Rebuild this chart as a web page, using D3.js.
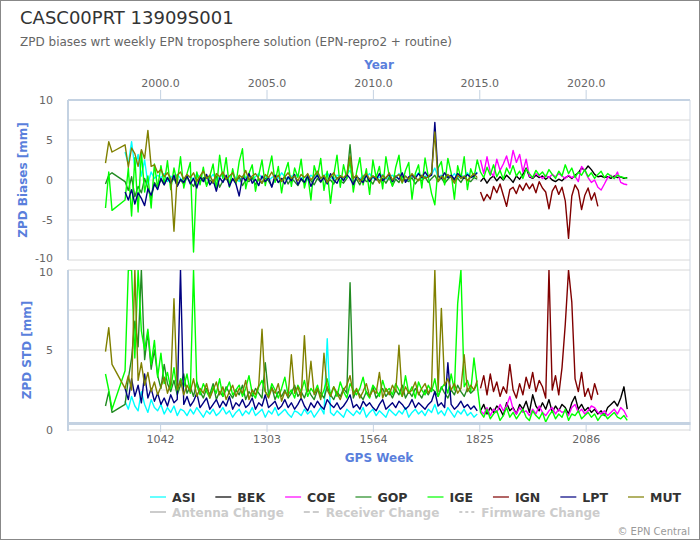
<!DOCTYPE html>
<html>
<head>
<meta charset="utf-8">
<script src="https://cdn.jsdelivr.net/npm/d3@7"></script>
<style>
  body { margin: 0; background: #fff; }
  text { font-family: "DejaVu Sans", sans-serif; }
</style>
</head>
<body>
<div id="chart"></div>
<script>
// GPS weeks: value k of a series sits at week gridStart + (offset + k) * weekStep
const gridStart = 908;
const weekStep = 8;

const stations = ["ASI", "BEK", "COE", "GOP", "IGE", "IGN", "LPT", "MUT"];
const colors = ["#00ffff", "#000000", "#ff00ff", "#228b22", "#00ff00", "#800000", "#000080", "#808000"];
const offsets = [6, 115, 115, 0, 0, 115, 6, 0];

const weekTicks = [1042, 1303, 1564, 1825, 2086];
const yearTicks = [2000, 2005, 2010, 2015, 2020];
const biasTicks = [-10, -5, 0, 5, 10];
const stdTicks = [0, 5, 10];

const asiBias = [3.5, 2.0, 4.8, 1.5, 3.2, 0.5, 2.5, -0.5, 1.0, 0.2,
  0.6, 0.3, 0.8, -0.2, 0.5, 0.1, 0.7, 0.2, -0.3, 0.6,
  0.4, 0.1, 0.8, 0.3, -0.1, 0.5, 0.2, 0.7, 0.0, 0.4,
  0.6, 0.1, 0.3, 0.9, 0.2, -0.2, 0.5, 0.3, 0.7, 0.1,
  0.4, 0.8, 0.2, 0.5, -0.1, 0.3, 0.6, 0.2, 0.9, 0.4,
  0.1, 0.5, 0.3, 0.7, 0.2, 0.4, 0.0, 0.6, 0.3, 0.8,
  0.2, 0.5, 0.9, 0.3, 0.1, 0.6, 0.4, 0.2, 0.7, 1.2,
  0.3, 0.5, 0.1, 0.6, 0.4, 0.8, 0.2, 0.5, 0.3, 0.7,
  0.1, 0.4, 0.6, 0.2, 0.8, 0.3, 0.5, 0.0, 0.6, 0.4,
  0.9, 0.2, 0.5, 0.3, 0.7, 1.5, 0.4, 0.6, 0.1, 0.5,
  0.3, 0.8, 0.2, 0.6, 0.4, 0.9, 0.3, 0.5, 1.0];
const asiStd = [1.8, 1.3, 2.1, 1.5, 1.2, 2.4, 1.6, 1.1, 1.9, 1.4,
  1.2, 1.6, 1.0, 1.4, 1.1, 1.5, 0.9, 1.3, 1.2, 0.9,
  1.3, 1.0, 1.4, 1.1, 0.8, 1.2, 1.0, 1.3, 0.9, 1.1,
  1.4, 1.0, 1.2, 0.8, 1.1, 1.3, 0.9, 1.2, 1.0, 1.4,
  0.9, 1.1, 1.3, 0.8, 1.2, 1.0, 1.4, 0.9, 1.1, 1.3,
  1.0, 0.8, 1.2, 1.1, 0.9, 1.3, 1.0, 1.2, 0.8, 1.1,
  1.4, 1.0, 5.7, 1.1, 0.9, 1.2, 1.0, 0.8, 1.3, 1.1,
  0.9, 1.2, 1.0, 1.4, 0.8, 1.1, 1.3, 0.9, 1.2, 1.0,
  0.8, 1.3, 1.1, 0.9, 1.2, 1.0, 1.4, 0.8, 1.1, 1.3,
  1.0, 1.2, 0.9, 1.3, 1.1, 1.6, 1.0, 1.2, 0.9, 1.4,
  1.1, 0.8, 1.2, 1.0, 1.3, 0.9, 1.1, 0.8, 1.0];

const bekBias = [-0.2, 0.3, -0.4, 0.2, 0.5, -0.1, 0.4, 0.0, 0.6, 0.2,
  -0.3, 0.5, 0.1, 0.7, 1.5, 0.4, 0.2, 0.6, 0.3, 0.5,
  0.1, 0.4, 0.0, -0.2, 0.1, -0.1, 0.3, 0.5, 0.2, 0.6,
  0.9, 1.5, 1.2, 1.75, 1.3, 0.7, 0.4, 0.5, 0.3, 0.4,
  0.2, 0.5, 0.3, 0.4, 0.2, 0.3];
const bekStd = [1.2, 1.6, 1.0, 1.4, 1.1, 1.5, 1.3, 0.9, 1.7, 1.2,
  1.4, 1.0, 1.6, 1.3, 1.8, 1.1, 2.2, 1.5, 1.2, 1.7,
  1.3, 1.9, 1.1, 1.5, 1.2, 1.6, 1.4, 1.0, 1.7, 2.1,
  1.3, 1.6, 1.2, 1.4, 1.1, 1.3, 1.0, 1.2, 0.9, 1.4,
  1.6, 1.8, 1.5, 2.0, 2.7, 1.3];

const coeBias = [2.5, 0.8, 2.9, 1.0, 0.5, 2.6, 1.2, 2.0, 3.0, 1.5,
  3.7, 2.2, 3.2, 1.0, 2.6, 0.5, 0.3, 0.8, 0.5, 0.2,
  0.6, 0.3, 0.7, 0.4, 0.8, 0.5, 0.2, 0.6, 0.3, 0.5,
  -0.2, 1.7, 1.2, 0.3, -0.3, 0.0, -0.9, -1.25, -0.5, 0.3,
  0.6, 0.2, 1.0, -0.3, -0.5, -0.6];
const coeStd = [1.2, 1.0, 1.4, 0.9, 1.3, 1.1, 1.6, 1.2, 1.5, 2.1,
  1.3, 1.0, 1.4, 1.1, 1.2, 0.9, 1.3, 1.0, 1.5, 1.1,
  0.9, 1.2, 1.4, 1.0, 1.3, 1.1, 1.2, 0.9, 1.4, 1.6,
  1.1, 1.3, 1.0, 1.2, 1.5, 1.4, 1.1, 1.0, 1.2, 0.9,
  1.1, 1.3, 1.0, 1.4, 1.2, 0.8];

const gopBias = [-0.5, 0.6, 0.9, null, null, null, -0.2, -1.3, 0.4, -2.1,
  -0.8, -1.6, 0.2, -1.0, -2.4, -0.3, -0.9, 0.1, -0.6, 0.3,
  -0.4, 0.2, -0.7, 0.0, -0.5, 0.4, -0.3, -0.8, 0.1, -0.2,
  0.3, -0.6, 0.0, -0.4, 0.5, -0.9, -0.1, 0.2, -0.5, 0.1,
  -0.3, 0.4, -0.7, 0.0, -0.2, 0.3, -0.6, 0.1, -0.4, 0.2,
  -0.1, -0.8, 0.3, -0.3, 0.0, 0.4, -0.5, 0.2, -0.2, -0.7,
  0.1, -0.4, 0.3, -0.1, -0.6, 0.2, -0.3, 0.5, -0.2, 0.0,
  -0.5, 0.3, -0.1, -0.4, 0.2, 4.4, -0.3, 0.1, -0.6, 0.3,
  -0.2, 0.0, -0.5, 0.4, -0.1, 0.2, -0.4, 0.3, -0.7, 0.1,
  -0.3, 0.5, 0.0, -0.2, 0.3, -0.5, 0.1, -0.1, 0.4, -0.3,
  0.2, 0.6, -0.2, 0.3, -0.4, 0.1, 0.5, -0.1, 0.2, -0.3,
  0.4, 0.0, -0.2, 0.3, 0.1];
const gopStd = [1.5, 2.4, 1.1, null, null, null, 1.6, 3.2, 4.5, 6.8,
  5.2, 10, 4.4, 6.1, 3.8, 5.0, 3.4, 2.6, 4.1, 2.9,
  2.4, 3.1, 2.2, 2.8, 3.5, 2.3, 2.7, 2.1, 3.0, 2.4,
  2.0, 2.6, 2.2, 2.9, 1.9, 2.4, 2.1, 2.7, 2.3, 2.0,
  2.5, 2.2, 2.8, 1.9, 2.4, 2.1, 2.6, 2.3, 2.0, 4.2,
  2.2, 2.7, 1.9, 2.4, 2.1, 2.5, 2.0, 2.3, 2.8, 2.1,
  2.4, 2.0, 2.6, 2.2, 1.9, 2.5, 2.3, 2.0, 2.7, 2.2,
  1.9, 2.4, 2.1, 2.6, 2.3, 9.2, 2.0, 2.5, 2.2, 1.9,
  2.4, 2.1, 2.7, 2.0, 2.3, 2.6, 2.1, 2.4, 2.0, 2.5,
  2.2, 2.8, 2.0, 2.4, 2.1, 2.6, 2.3, 2.0, 2.5, 2.2,
  2.6, 2.4, 2.1, 2.7, 2.3, 2.0, 2.5, 2.2, 2.8, 2.4,
  2.1, 2.6, 2.3, 2.5, 2.9];

const igeBias = [-3.5, 1.0, -3.8, null, null, null, -2.5, 1.5, -4.5, 2.8,
  -4.0, 3.5, -1.5, 0.5, -3.5, 2.0, -1.0, 1.8, -0.5, 2.4,
  -1.2, 1.5, -0.4, 2.9, -1.0, 0.8, 2.2, -9.0, 1.0, -0.6,
  1.6, -0.8, 0.5, 2.0, -1.2, 3.1, 0.2, 2.8, -0.9, 1.4,
  -0.5, 2.3, 3.9, -1.1, 0.8, 1.9, -1.4, 0.6, 2.5, -0.7,
  1.2, 3.0, -0.3, 1.7, -1.6, 0.9, 2.2, -0.8, 1.5, 0.3,
  2.6, -1.0, 0.7, -2.5, 1.8, 0.4, 2.7, -1.3, 1.1, -2.9,
  0.6, 3.1, -0.9, 1.9, 0.2, 2.4, -1.5, 1.0, 2.8, -0.6,
  1.4, -1.8, 2.5, 0.3, 1.7, -1.1, 2.9, 0.5, -0.8, 1.6,
  3.1, -0.4, 1.2, 2.2, -2.4, 0.8, 1.9, -1.0, 2.75, 0.4,
  -1.7, -3.1, 1.5, 2.3, -0.6, 2.7, 0.9, -2.4, 1.8, 0.2,
  2.9, -1.2, 1.4, 0.3, 2.5,
  1.0, 0.3, 1.6, 0.6, 1.9, 0.4, 1.2, 0.1, 1.5, 0.7,
  1.8, 0.5, 1.1, 0.2, 1.4, 0.8, 0.3, 1.2, 0.6, 1.0,
  0.4, 1.3, 0.7, 0.2, 1.1, 0.5, 1.9, 0.8, 1.5, 0.3,
  1.0, 0.6, 1.3, 0.4, 0.9, 0.2, 0.7, 1.1, 0.3, 0.8,
  0.5, 0.2, 0.6, 0.4, 0.3, 0.2];
const igeStd = [3.5, 2.5, 1.3, null, null, null, 3.7, 10, 10, 4.5,
  10, 6.2, 5.0, 6.3, 4.1, 5.6, 3.3, 4.8, 2.9, 3.6,
  2.6, 3.9, 2.4, 3.2, 2.7, 3.5, 2.3, 10, 2.8, 2.2,
  2.9, 2.4, 2.0, 2.7, 2.3, 3.2, 2.1, 2.5, 3.0, 2.2,
  2.5, 2.8, 2.1, 2.6, 3.4, 2.3, 2.0, 2.7, 3.1, 2.4,
  2.1, 2.9, 2.5, 2.0, 2.6, 3.3, 2.2, 2.5, 2.0, 2.8,
  2.4, 3.1, 2.1, 2.6, 2.3, 2.8, 2.0, 2.5, 3.2, 2.2,
  2.7, 2.1, 3.0, 2.4, 2.0, 2.9, 2.5, 2.2, 2.6, 3.3,
  2.3, 2.0, 2.8, 2.5, 2.1, 3.1, 2.4, 2.6, 2.2, 2.9,
  2.5, 2.1, 3.4, 2.3, 2.7, 2.0, 3.0, 2.5, 2.2, 2.8,
  2.4, 3.2, 2.1, 2.6, 2.9, 2.3, 3.5, 2.5, 7.9, 10,
  2.7, 3.1, 2.4, 4.5, 2.8,
  1.1, 0.8, 1.3, 0.7, 1.0, 1.2, 0.6, 0.9, 1.4, 0.8,
  1.1, 0.7, 1.0, 1.3, 0.8, 0.6, 1.2, 0.9, 0.7, 1.1,
  0.5, 0.9, 1.2, 0.7, 1.0, 0.8, 1.3, 0.6, 1.0, 0.9,
  1.2, 0.7, 0.9, 1.1, 0.8, 1.0, 0.6, 0.9, 1.0, 0.7,
  0.9, 1.1, 0.8, 0.7, 0.9, 0.6];

const ignBias = [-1.5, -2.6, -1.8, -2.4, -0.8, -1.6, -0.5, -1.9, -3.3, -1.2,
  -0.9, -1.7, -0.6, -1.3, -0.4, -1.1, -0.5, -1.6, -0.2, -1.0,
  -1.5, -3.6, -1.4, -0.7, -1.8, -0.9, -2.6, -7.3, -2.0, -0.6,
  -1.3, -3.7, -1.9, -1.0, -2.5, -1.6, -3.3];
const ignStd = [2.6, 3.4, 2.2, 3.5, 2.4, 3.0, 2.1, 2.7, 2.3, 4.1,
  2.5, 2.0, 2.9, 2.2, 3.3, 2.6, 3.6, 2.4, 3.1, 2.7,
  2.0, 10, 2.5, 3.4, 2.2, 3.9, 6.6, 10, 8.0, 3.2,
  2.4, 3.6, 2.1, 2.6, 1.9, 2.9, 2.2];

const lptBias = [-1.5, -2.5, -1.2, -3.0, -1.6, -2.3, -3.2, -1.1, -1.9, -0.5,
  -1.2, 0.2, -0.6, 0.3, -0.4, 0.6, -0.8, 0.1, -0.3, 0.5,
  -0.5, 0.2, -1.0, 0.4, -0.2, 0.7, -0.6, 0.0, -1.4, 0.3,
  -0.3, 0.6, -0.8, 0.2, -0.5, -2.0, 0.4, -0.1, 0.8, -0.4,
  0.1, -0.7, 0.5, -0.2, 0.3, -0.9, 0.6, -0.3, 0.2, -0.5,
  0.4, -0.1, 0.7, -0.6, 0.2, -0.3, 0.5, -0.8, 0.1, 0.6,
  -0.2, 0.3, -0.5, 0.8, 0.0, -0.4, 0.5, -0.1, 0.7, 0.2,
  -0.6, 0.4, 0.1, -0.3, 0.6, -0.2, 0.5, 0.0, 0.8, -0.1,
  0.3, 0.7, -0.2, 0.5, 0.1, 0.9, -0.3, 0.4, 0.6, 0.2,
  0.8, 0.3, 1.0, 0.4, 0.6, 7.2, 0.5, 0.2, 0.9, 0.3,
  0.6, 0.1, 0.8, 0.4, 0.2, 0.7, 0.3, 0.5, 0.9];
const lptStd = [2.6, 1.9, 3.2, 2.1, 2.8, 1.7, 3.5, 2.0, 2.6, 1.8,
  2.3, 1.6, 2.0, 1.5, 2.2, 1.7, 1.9, 10, 1.6, 2.1,
  1.5, 1.8, 2.3, 1.4, 1.7, 2.0, 1.3, 1.6, 1.9, 1.4,
  1.8, 1.5, 2.1, 1.3, 1.7, 1.5, 1.9, 1.4, 1.6, 2.0,
  1.3, 1.7, 1.5, 2.2, 1.4, 1.6, 1.8, 1.3, 1.5, 1.9,
  1.4, 1.7, 1.3, 1.6, 2.0, 1.5, 1.2, 1.7, 1.4, 1.8,
  1.5, 1.3, 1.9, 1.6, 1.4, 1.7, 1.3, 1.5, 1.8, 2.2,
  1.4, 1.6, 1.3, 1.8, 1.5, 1.7, 1.4, 1.2, 1.6, 1.9,
  1.3, 1.5, 1.7, 1.4, 1.8, 1.6, 1.3, 1.5, 1.9, 1.4,
  1.7, 1.5, 1.3, 1.6, 1.8, 2.4, 1.5, 1.7, 1.4, 4.2,
  1.6, 1.3, 1.5, 1.8, 1.4, 1.6, 1.3, 1.5, 1.2];

const mutBias = [2.1, 4.8, 3.5, null, null, null, 4.4, 1.6, 4.0, 3.3,
  1.7, 3.8, 2.7, 6.2, 1.7, 1.9, 0.9, 1.3, 0.4, 0.9,
  0.2, -6.4, 0.6, 1.0, 0.1, 0.7, 0.3, 0.9, -0.2, 0.5,
  1.1, 0.2, 0.6, -0.3, 0.8, 0.4, 1.0, 0.1, 0.5, 0.9,
  -0.2, 0.6, 0.3, 1.2, 0.0, 0.5, 0.8, 0.2, -0.4, 0.7,
  0.3, 1.0, 0.1, 0.6, -0.2, 0.4, 0.9, 0.2, 0.5, -0.1,
  0.7, 0.3, 0.8, 0.0, 0.5, 1.1, 0.2, 0.6, -0.3, 0.4,
  0.9, 0.1, 0.5, 0.3, 0.7, 3.0, 0.2, 0.6, -0.2, 0.4,
  0.8, 0.1, 0.5, 0.3, -0.4, 0.6, 0.2, 0.9, 0.0, 0.4,
  0.7, -0.3, 0.5, 0.1, 0.8, 0.3, -0.1, 0.6, 0.2, 0.4,
  0.9, 6.0, -0.2, 0.5, 0.1, 0.7, 0.3, -0.4, 0.6, 0.2,
  0.5, -0.1, 0.4, 0.8, 0.3];
const mutStd = [4.9, 6.4, 4.1, null, null, null, 2.6, 3.4, 2.5, 10,
  3.1, 4.2, 2.8, 3.6, 2.4, 3.0, 2.2, 2.7, 3.3, 2.3,
  2.9, 8.2, 2.5, 3.1, 2.2, 2.8, 2.4, 3.2, 2.1, 2.6,
  2.3, 2.9, 2.0, 2.5, 3.0, 2.2, 2.7, 1.9, 2.4, 2.8,
  2.1, 2.6, 2.3, 3.1, 1.9, 2.5, 2.2, 2.8, 6.3, 2.4,
  2.0, 2.6, 2.3, 2.9, 1.8, 2.4, 2.1, 4.7, 2.3, 2.7,
  2.0, 5.9, 2.4, 4.3, 2.2, 2.6, 1.9, 4.8, 2.5, 2.1,
  2.7, 2.3, 1.9, 2.5, 2.8, 3.4, 2.2, 2.6, 2.0, 2.4,
  2.9, 2.1, 2.5, 2.3, 3.6, 2.0, 2.6, 2.2, 2.8, 2.4,
  5.3, 2.1, 2.7, 2.3, 2.5, 3.0, 2.2, 2.6, 2.9, 2.3,
  2.7, 10, 2.4, 7.6, 2.8, 3.2, 2.5, 2.9, 2.3, 2.6,
  4.7, 2.4, 2.8, 2.5, 3.1];

const biasData = [asiBias, bekBias, coeBias, gopBias, igeBias, ignBias, lptBias, mutBias];
const stdData = [asiStd, bekStd, coeStd, gopStd, igeStd, ignStd, lptStd, mutStd];

const changeItems = ["Antenna Change", "Receiver Change", "Firmware Change"];

const width = 700, height = 540;
const left = 68, right = 690;
const blue = "#5a7fdc", axisCol = "#c4d2e2", gridCol = "#d8d8d8";

const svg = d3.select("#chart").append("svg")
  .attr("width", width).attr("height", height);

svg.append("rect").attr("x", 0.5).attr("y", 0.5)
  .attr("width", width - 1).attr("height", height - 1)
  .attr("fill", "#fff").attr("stroke", "#888");

// scales
const x = d3.scaleLinear().domain([816, 2342]).range([left, right]);
const toYear = w => 2000 + (w - 1042) / 52.2;
const xYear = d3.scaleLinear().domain([toYear(816), toYear(2342)]).range([left, right]);
const yBias = d3.scaleLinear().domain([-10, 10]).range([260, 100]);
const yStd = d3.scaleLinear().domain([0, 10]).range([430, 270]);

// titles
svg.append("text").attr("x", 20).attr("y", 24)
  .attr("font-size", 18).attr("fill", "#333").text("CASC00PRT 13909S001");
svg.append("text").attr("x", 20).attr("y", 45.5)
  .attr("font-size", 12).attr("fill", "#666")
  .text("ZPD biases wrt weekly EPN troposphere solution (EPN-repro2 + routine)");

// grids
function grid(scale, step) {
  const [a, b] = scale.domain();
  svg.append("g").selectAll("line").data(d3.range(a, b + 0.01, step)).join("line")
    .attr("x1", left).attr("x2", right)
    .attr("y1", d => scale(d)).attr("y2", d => scale(d))
    .attr("stroke", gridCol).attr("stroke-width", 1);
}
grid(yBias, 2.5);
grid(yStd, 2.5);

// y labels (the two labels at the panel seam are nudged apart, as in the original)
function yLabels(scale, ticks, nudge) {
  svg.append("g").selectAll("text").data(ticks).join("text")
    .attr("x", 53).attr("y", d => scale(d) + nudge(d)).attr("dy", "0.35em")
    .attr("text-anchor", "end").attr("font-size", 11).attr("fill", "#666")
    .text(d => d);
}
yLabels(yBias, biasTicks, d => d === -10 ? -2 : 0);
yLabels(yStd, stdTicks, d => d === 10 ? 2 : 0);

// axis frames
svg.append("line").attr("x1", left).attr("x2", right).attr("y1", 100).attr("y2", 100)
  .attr("stroke", axisCol).attr("stroke-width", 2);
svg.append("line").attr("x1", left).attr("x2", left).attr("y1", 100).attr("y2", 260)
  .attr("stroke", axisCol).attr("stroke-width", 2);
svg.append("line").attr("x1", left).attr("x2", left).attr("y1", 270).attr("y2", 431)
  .attr("stroke", axisCol).attr("stroke-width", 2);
svg.append("line").attr("x1", right).attr("x2", right).attr("y1", 100).attr("y2", 431)
  .attr("stroke", "#d0d8e4").attr("stroke-width", 1);

// series lines
svg.append("clipPath").attr("id", "clipB").append("rect")
  .attr("x", left).attr("y", 100).attr("width", right - left).attr("height", 160);
svg.append("clipPath").attr("id", "clipS").append("rect")
  .attr("x", left).attr("y", 270).attr("width", right - left).attr("height", 160);

function points(i, vals) {
  return vals.map((v, k) => ({ w: gridStart + (offsets[i] + k) * weekStep, v }))
    .filter(d => d.v !== null);
}

const gB = svg.append("g").attr("clip-path", "url(#clipB)");
const gS = svg.append("g").attr("clip-path", "url(#clipS)");
const lineB = d3.line().x(d => x(d.w)).y(d => yBias(d.v));
const lineS = d3.line().x(d => x(d.w)).y(d => yStd(d.v));
stations.forEach((name, i) => {
  gB.append("path").attr("d", lineB(points(i, biasData[i])))
    .attr("fill", "none").attr("stroke", colors[i]).attr("stroke-width", 1.4)
    .attr("stroke-linejoin", "round");
  gS.append("path").attr("d", lineS(points(i, stdData[i])))
    .attr("fill", "none").attr("stroke", colors[i]).attr("stroke-width", 1.4)
    .attr("stroke-linejoin", "round");
});

// top year axis
const topAxis = svg.append("g").attr("transform", "translate(0,100)")
  .call(d3.axisTop(xYear).tickValues(yearTicks).tickFormat(d3.format(".1f")).tickSize(10).tickSizeOuter(0));
topAxis.select(".domain").remove();
topAxis.selectAll(".tick line").attr("stroke", axisCol);
topAxis.selectAll(".tick text").attr("font-size", 11).attr("fill", "#666")
  .attr("font-family", "DejaVu Sans");

// bottom week axis
const botAxis = svg.append("g").attr("transform", "translate(0,423)")
  .call(d3.axisBottom(x).tickValues(weekTicks).tickFormat(d3.format("d")).tickSize(9).tickSizeOuter(0));
botAxis.select(".domain").attr("stroke", axisCol).attr("stroke-width", 3);
botAxis.selectAll(".tick line").attr("stroke", axisCol);
botAxis.selectAll(".tick text").attr("font-size", 11).attr("fill", "#666")
  .attr("font-family", "DejaVu Sans");

// axis titles
const cx = (left + right) / 2;
svg.append("text").attr("x", cx).attr("y", 69).attr("text-anchor", "middle")
  .attr("font-size", 12).attr("font-weight", "bold").attr("fill", blue).text("Year");
svg.append("text").attr("x", cx).attr("y", 462).attr("text-anchor", "middle")
  .attr("font-size", 12).attr("font-weight", "bold").attr("fill", blue).text("GPS Week");
svg.append("text").attr("transform", "translate(27,180) rotate(-90)").attr("text-anchor", "middle")
  .attr("font-size", 12).attr("font-weight", "bold").attr("fill", blue).text("ZPD Biases [mm]");
svg.append("text").attr("transform", "translate(31,350) rotate(-90)").attr("text-anchor", "middle")
  .attr("font-size", 12).attr("font-weight", "bold").attr("fill", blue).text("ZPD STD [mm]");

// legend
function legendRow(items, y, colorOf, dashOf, textCol, opacity, size) {
  let lx = 150;
  items.forEach((name, i) => {
    svg.append("line").attr("x1", lx).attr("x2", lx + 16).attr("y1", y).attr("y2", y)
      .attr("stroke", colorOf(i)).attr("stroke-width", 2).attr("opacity", opacity)
      .attr("stroke-dasharray", dashOf(i));
    const t = svg.append("text").attr("x", lx + 22).attr("y", y + 4.5)
      .attr("font-size", size).attr("font-weight", "bold").attr("fill", textCol).text(name);
    lx += 22 + t.node().getComputedTextLength() + 20;
  });
}
legendRow(stations, 497, i => colors[i], () => null, "#333", 0.6, 12.5);
legendRow(changeItems, 512, () => "#ccc", i => ["none", "6,3", "3,3"][i], "#ccc", 1, 12);

svg.append("text").attr("x", 690).attr("y", 535).attr("text-anchor", "end")
  .attr("font-size", 10).attr("fill", "#999").text("\u00a9 EPN Central");
</script>
</body>
</html>
